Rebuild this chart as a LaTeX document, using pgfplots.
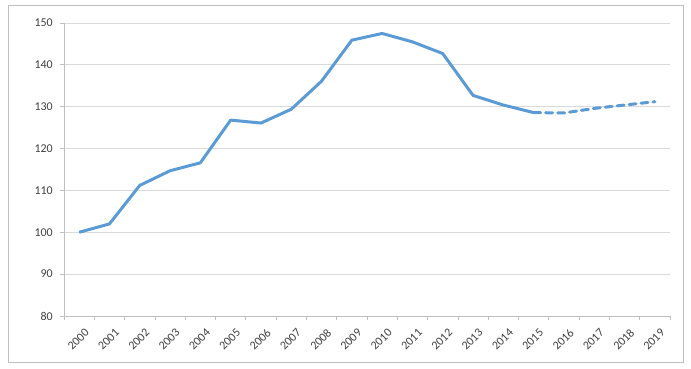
\documentclass[border=0pt]{standalone}
\usepackage{pgfplots}
\pgfplotsset{compat=1.18}
\usepackage{fontspec}
\setmainfont{Carlito}
\definecolor{xlblue}{HTML}{5B9BD5}
\definecolor{gridc}{HTML}{D9D9D9}
\definecolor{axisc}{HTML}{BFBFBF}
\definecolor{txt}{HTML}{404040}
\begin{document}
\begin{tikzpicture}
\useasboundingbox (0bp,0bp) rectangle (691bp,369bp);
\draw[color=axisc, line width=0.8bp] (8bp,7bp) rectangle (683bp,364bp);
\begin{axis}[
  at={(64bp,53bp)}, anchor=south west,
  scale only axis, width=606bp, height=293bp,
  xmin=-0.5, xmax=19.5, ymin=80, ymax=150,
  axis x line*=bottom, axis y line*=left,
  axis line style={color=axisc, line width=0.8bp},
  x axis line style={-}, y axis line style={-},
  ytick={80,90,...,150},
  ymajorgrids, major grid style={color=gridc, line width=0.8bp},
  xtick={0,...,19},
  xticklabels={2000,2001,2002,2003,2004,2005,2006,2007,2008,2009,2010,2011,2012,2013,2014,2015,2016,2017,2018,2019},
  minor xtick={-0.5,0.5,...,19.5},
  tick align=outside,
  major tick length=4bp, minor tick length=4bp,
  x tick style={draw=none},
  minor x tick style={draw=axisc, line width=0.8bp},
  y tick style={color=axisc, line width=0.8bp},
  tick label style={font=\fontsize{12}{14}\selectfont, color=txt},
  xticklabel style={rotate=45, anchor=north east, inner sep=1bp, xshift=-1bp, yshift=-8bp},
  yticklabel style={inner sep=2bp, xshift=-5bp},
  /pgf/number format/assume math mode=true,
  clip=false,
]
\addplot[color=xlblue, line width=3bp, line join=round] coordinates {
(0,100.0) (1,102.0) (2,111.2) (3,114.7) (4,116.6) (5,126.8) (6,126.1) (7,129.4)
(8,136.1) (9,145.9) (10,147.5) (11,145.5) (12,142.7) (13,132.7) (14,130.4) (15,128.6)
};
\addplot[color=xlblue, line width=3bp, line cap=round, dash pattern=on 7bp off 5bp] coordinates {
(15,128.6) (16,128.5) (17,129.6) (18,130.4) (19,131.2)
};
\end{axis}
\end{tikzpicture}
\end{document}
